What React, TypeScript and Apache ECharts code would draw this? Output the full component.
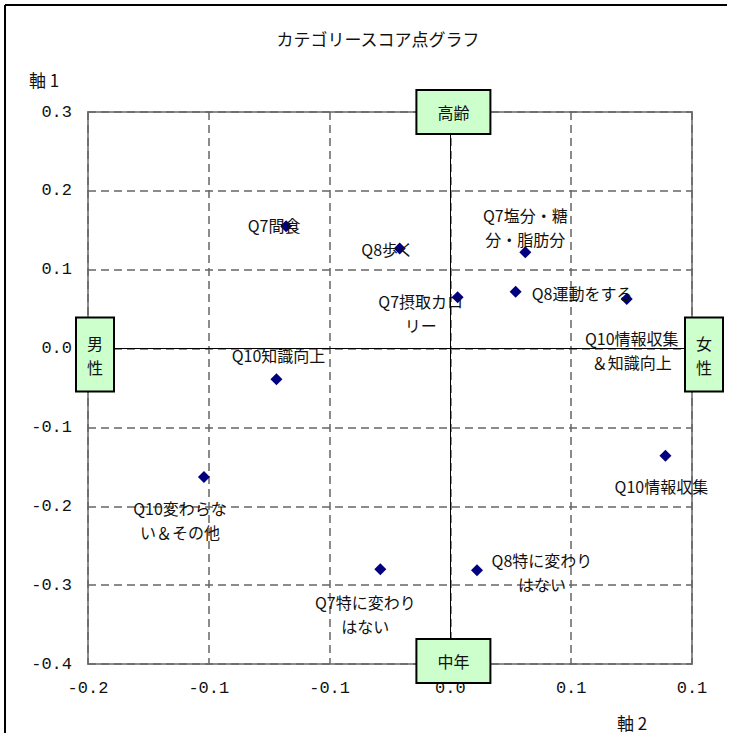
import React, { useEffect, useRef } from "react";
import * as echarts from "echarts";

const pointNames = [
  "Q7間食",
  "Q8歩く",
  "Q7塩分・糖\n分・脂肪分",
  "Q8運動をする",
  "Q7摂取カロ\nリー",
  "Q10情報収集\n＆知識向上",
  "Q10知識向上",
  "Q10情報収集",
  "Q10変わらな\nい＆その他",
  "Q7特に変わり\nはない",
  "Q8特に変わり\nはない",
];
const xValues = [-0.068, -0.021, 0.031, 0.027, 0.003, 0.073, -0.072, 0.089, -0.102, -0.029, 0.011];
const yValues = [0.155, 0.127, 0.122, 0.072, 0.065, 0.063, -0.039, -0.136, -0.163, -0.28, -0.281];

const poleNames = ["高齢", "中年", "男\n性", "女\n性"];
const poleX = [0, 0, -0.15, 0.1];
const poleY = [0.3, -0.4, 0, 0];

const xTickLabels = ["-0.2", "-0.1", "-0.1", "0.0", "0.1", "0.1"];
const yTickLabels = ["-0.4", "-0.3", "-0.2", "-0.1", "0.0", "0.1", "0.2", "0.3"];

// label layout (pixel offsets from the marker)
const labelOffsets: number[][] = [
  [-12, -1], [-12, 1], [0, -25], [16, 1], [-37, 16], [5, 51],
  [2, -24], [-4, 30], [-24, 43], [-15, 45], [65, 2],
];
const labelAligns = ["center", "center", "center", "left", "center", "center", "center", "center", "center", "center", "center"];
const poleOffsets: number[][] = [[3, 0], [3, -3], [7, 6], [12, 6]];
const polePadding: number[][] = [[9, 20], [9, 20], [12, 10], [12, 10]];

const CJK = "'Noto Sans CJK JP', 'Noto Sans', sans-serif";

export default function App() {
  const ref = useRef<HTMLDivElement>(null);
  useEffect(() => {
    if (!ref.current) return;
    const chart = echarts.init(ref.current, undefined, { renderer: "svg" });
    const points = pointNames.map((n, i) => ({
      value: [xValues[i], yValues[i]],
      name: n,
      label: {
        show: true,
        position: "inside",
        offset: labelOffsets[i],
        align: labelAligns[i],
      },
    }));
    const poles = poleNames.map((n, i) => ({
      value: [poleX[i], poleY[i]],
      name: n,
      label: {
        show: true,
        position: "inside",
        offset: poleOffsets[i],
        padding: polePadding[i],
      },
    }));
    const textStyle = (text: string, x: number, y: number) => ({
      type: "text",
      x,
      y,
      style: {
        text,
        font: `17px ${CJK}`,
        fill: "#111",
        align: "center",
        verticalAlign: "middle",
      },
    });
    chart.setOption({
      animation: false,
      grid: {
        left: 88,
        right: 35,
        top: 112,
        bottom: 69,
        show: true,
        borderColor: "#8c8c8c",
        borderWidth: 2,
        backgroundColor: "transparent",
      },
      xAxis: {
        type: "value",
        min: -0.15,
        max: 0.1,
        interval: 0.05,
        axisLine: { show: false, onZero: false },
        axisTick: { show: false },
        axisLabel: {
          margin: 16,
          fontSize: 17,
          color: "#111",
          fontFamily: "'Liberation Mono', monospace",
          formatter: (_v: number, idx: number) => xTickLabels[idx],
        },
        splitLine: {
          show: true,
          lineStyle: { color: "#666", type: [8, 5], width: 1.5 },
        },
      },
      yAxis: {
        type: "value",
        min: -0.4,
        max: 0.3,
        interval: 0.1,
        axisLine: { show: false, onZero: false },
        axisTick: { show: false },
        axisLabel: {
          margin: 16,
          fontSize: 17,
          color: "#111",
          fontFamily: "'Liberation Mono', monospace",
          formatter: (_v: number, idx: number) => yTickLabels[idx],
        },
        splitLine: {
          show: true,
          lineStyle: { color: "#666", type: [8, 5], width: 1.5 },
        },
      },
      graphic: [
        {
          type: "line",
          z: -10,
          shape: { x1: 5, y1: 5, x2: 5, y2: 733 },
          style: { stroke: "#000", lineWidth: 2 },
        },
        {
          type: "line",
          z: -10,
          shape: { x1: 5, y1: 5, x2: 729, y2: 5 },
          style: { stroke: "#000", lineWidth: 2 },
        },
        textStyle("カテゴリースコア点グラフ", 378, 38),
        textStyle("軸 1", 44, 79),
        textStyle("軸 2", 632, 722),
      ],
      series: [
        {
          type: "scatter",
          symbol: "diamond",
          symbolSize: 12,
          itemStyle: { color: "#000080", opacity: 1 },
          label: {
            formatter: (p: any) => p.name,
            fontSize: 16,
            lineHeight: 24,
            color: "#111",
            opacity: 1,
            fontFamily: CJK,
          },
          data: points,
          z: 3,
          markLine: {
            silent: true,
            symbol: "none",
            label: { show: false },
            lineStyle: { color: "#000", type: "solid", width: 1, opacity: 1 },
            data: [{ xAxis: 0 }, { yAxis: 0 }],
          },
        },
        {
          type: "scatter",
          symbolSize: 0,
          itemStyle: { color: "transparent", opacity: 1 },
          label: {
            formatter: (p: any) => p.name,
            fontSize: 16,
            lineHeight: 24,
            color: "#111",
            opacity: 1,
            fontFamily: CJK,
            backgroundColor: "#ccffcc",
            borderColor: "#000",
            borderWidth: 2,
          },
          data: poles,
          z: 5,
        },
      ],
    });
    return () => chart.dispose();
  }, []);
  return (
    <div
      ref={ref}
      style={{ position: "absolute", left: 0, top: 0, width: 727, height: 733, overflow: "hidden" }}
    />
  );
}
